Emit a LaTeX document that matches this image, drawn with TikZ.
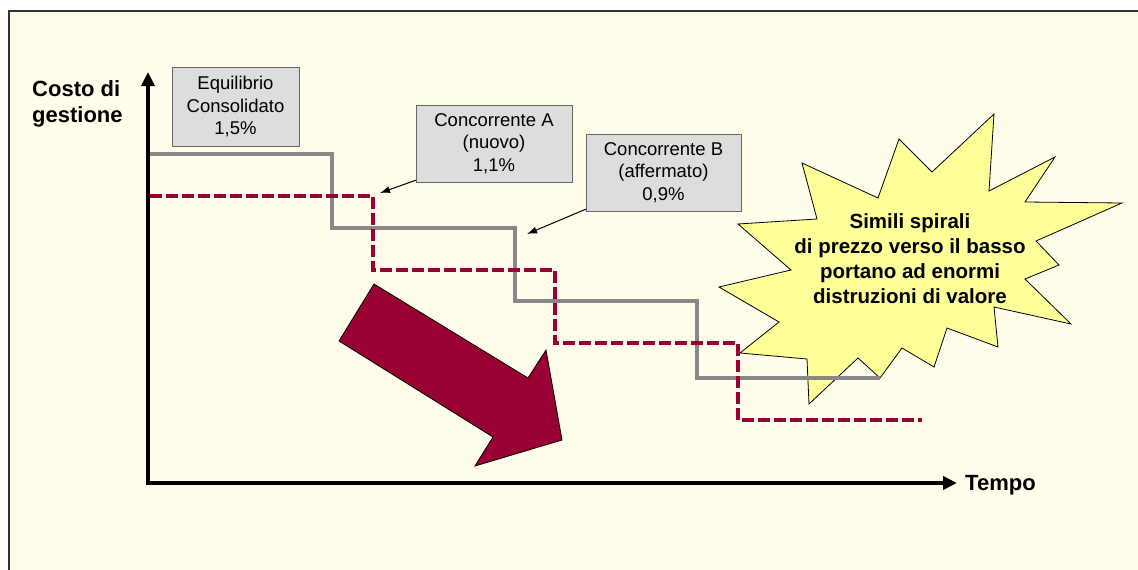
\documentclass[tikz,border=0pt]{standalone}
\usepackage{fontspec}
\setmainfont{Liberation Sans}
\usetikzlibrary{arrows.meta}
\definecolor{cream}{HTML}{FFFCE9}
\definecolor{crimson}{HTML}{990033}
\definecolor{stepgray}{HTML}{888888}
\definecolor{boxgray}{HTML}{DDDDDD}
\definecolor{starfill}{HTML}{FFFF99}
\begin{document}
\begin{tikzpicture}[
      x=1pt, y=-1pt,
      every node/.style={inner sep=0pt},
      infobox/.style={draw=black!60, fill=boxgray, align=center,
          font=\fontsize{18.5}{22.5}\selectfont},
      axislabel/.style={font=\bfseries\fontsize{22}{26}\selectfont},
      axis/.style={line width=4pt, -{Triangle[length=14pt,width=13pt]}},
      pointer/.style={line width=1pt, -{Latex[length=10pt,width=7pt]}},
      oldprice/.style={line width=4pt, stepgray},
      newprice/.style={line width=4.5pt, crimson, dash pattern=on 12pt off 4pt}
    ]

    \useasboundingbox (0,0) rectangle (1138,570);
    \draw[line width=2pt, draw=black!80, fill=cream] (9,11) rectangle (1150,590);

    % starburst
    \draw[fill=starfill, line width=0.8pt]
      (994,114) -- (989,191) -- (1055,157) -- (1025,202) -- (1122,203)
      -- (1036,241) -- (1059,265) -- (1025,279) -- (1071,324) -- (994,307)
      -- (998,347) -- (947,328) -- (934,367) -- (902,348) -- (880,378)
      -- (858,358) -- (809,404) -- (807,359) -- (740,353) -- (779,322)
      -- (719,287) -- (791,270) -- (738,224) -- (817,219) -- (802,163)
      -- (878,198) -- (899,139) -- (932,172) -- cycle;
    \node[align=center, font=\bfseries\fontsize{20.5}{25}\selectfont]
      (burst) at (910,259) {Simili spirali\\di prezzo verso il basso\\portano ad enormi\\distruzioni di valore};

    % price steps
    \draw[oldprice] (150,154) -| (332,228) -| (515,301) -| (697,378) -- (880,378);
    \draw[newprice] (150,196) -| (373,270) -| (555,343) -| (738,420) -- (922,420);

    % big arrow
    \draw[fill=crimson, line width=0.8pt]
      (374,284) -- (528,378) -- (546,350) -- (562,440) -- (475,466)
      -- (493,437) -- (339,341) -- cycle;

    % boxes
    \node[infobox, minimum width=127pt, minimum height=79pt] (equil) at (235.5,106.5)
      {Equilibrio\\Consolidato\\1,5\%};
    \node[infobox, minimum width=156pt, minimum height=77pt] (concA) at (494,143.5)
      {Concorrente A\\(nuovo)\\1,1\%};
    \node[infobox, minimum width=155pt, minimum height=77pt] (concB) at (663.5,172.5)
      {Concorrente B\\(affermato)\\0,9\%};

    \coordinate (tipA) at (380,193);
    \coordinate (tipB) at (527,234);
    \draw[pointer] (concA.south west) ++(0,-2) -- (tipA);
    \draw[pointer] (concB.south west) ++(0,-2) -- (tipB);

    % axes
    \coordinate (origin) at (148,483);
    \coordinate (ytop) at (148,72);
    \coordinate (xend) at (957,483);
    \draw[axis] ([yshift=-2pt]origin) -- (ytop);
    \draw[axis] ([xshift=-2pt]origin) -- (xend);

    \node[axislabel, align=left, anchor=north west] (ylabel) at (32,80) {Costo di\\gestione};
    \node[axislabel, anchor=base west] (xlabel) at (965,490) {Tempo};

  \end{tikzpicture}
\end{document}
